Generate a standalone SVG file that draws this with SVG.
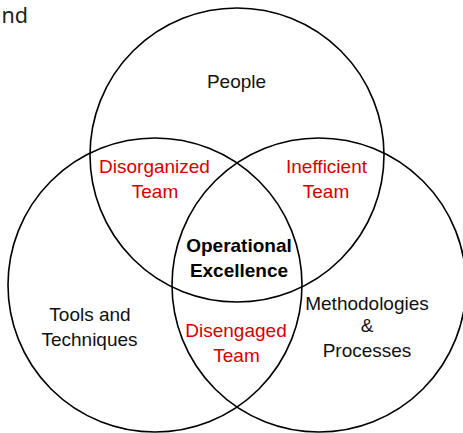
<svg xmlns="http://www.w3.org/2000/svg" width="463" height="433" viewBox="0 0 463 433">
<style>
.c{fill:none;stroke:#000;stroke-width:1.6}
.t{font-family:"Liberation Sans",Arial,sans-serif;font-size:19px;text-anchor:middle;fill:#111}
.r{fill:#d40000}
.b{font-weight:bold;fill:#000}
</style>
<rect width="463" height="433" fill="#fff"/>
<text x="1.5" y="22.5" font-family="'Noto Sans',sans-serif" font-size="21.5" fill="#222">nd</text>
<g id="people"><circle class="c" cx="237" cy="155" r="147"/><text class="t" x="236.5" y="88">People</text></g>
<g id="tools"><circle class="c" cx="155" cy="285" r="147"/><text class="t" x="90" y="321">Tools and</text><text class="t" x="89.5" y="345.5">Techniques</text></g>
<g id="methods"><circle class="c" cx="319" cy="285" r="147"/><text class="t" x="367" y="310">Methodologies</text><text class="t" x="367" y="332">&amp;</text><text class="t" x="367" y="356.5">Processes</text></g>
<g id="disorganized"><text class="t r" x="154.5" y="173">Disorganized</text><text class="t r" x="155" y="198">Team</text></g>
<g id="inefficient"><text class="t r" x="326.5" y="173">Inefficient</text><text class="t r" x="326" y="198">Team</text></g>
<g id="disengaged"><text class="t r" x="236" y="337">Disengaged</text><text class="t r" x="236.5" y="361.5">Team</text></g>
<g id="excellence"><text class="t b" x="239" y="251.5">Operational</text><text class="t b" x="239" y="276.5">Excellence</text></g>
<g id="connectors"></g>
</svg>
